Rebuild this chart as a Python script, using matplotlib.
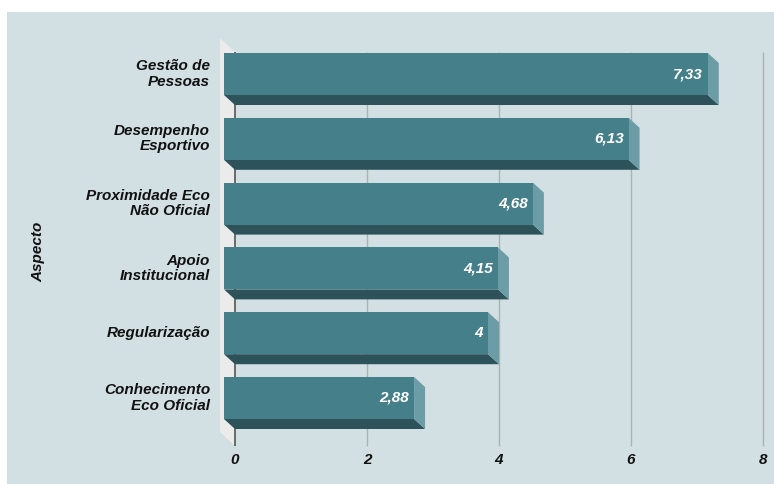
import matplotlib
matplotlib.use("Agg")
import matplotlib.pyplot as plt
from matplotlib.patches import Rectangle, Polygon

plt.rcParams['font.family'] = ['Liberation Sans', 'DejaVu Sans']

categorias = ["Gestão de\nPessoas", "Desempenho\nEsportivo", "Proximidade Eco\nNão Oficial",
              "Apoio\nInstitucional", "Regularização", "Conhecimento\nEco Oficial"]
valores = [7.33, 6.13, 4.68, 4.15, 4.0, 2.88]
rotulos = ["7,33", "6,13", "4,68", "4,15", "4", "2,88"]
ticks_x = [0, 2, 4, 6, 8]

FUNDO = "#d3e0e3"
FRENTE = "#457f8a"
BAIXO = "#2d5259"
LADO = "#6c9da6"
PAREDE = "#ebebeb"
FS = 11

W, H = 774, 484
fig = plt.figure(figsize=(W / 100, H / 100), dpi=100)
fig.patch.set_facecolor("white")
fundo = Rectangle((7 / W, 0), 1 - 7 / W, 1 - 12 / H, transform=fig.transFigure,
                  facecolor=FUNDO, edgecolor="none")
fundo.set_zorder(-10)
fig.add_artist(fundo)

# axes in pixel positions: x 235..763 (0..8), y 52..446
px_x0, px_x1, px_top, px_bot = 235, 763, 52, 446
ax = fig.add_axes([px_x0 / W, 1 - px_bot / H, (px_x1 - px_x0) / W, (px_bot - px_top) / H])
ax.set_zorder(1)
ax.set_facecolor("none")
for s in ax.spines.values():
    s.set_visible(False)

ppx = (px_x1 - px_x0) / 8.0      # px per x unit
ppy = 64.8                       # px per category
ytop = (px_top - 84) / ppy
ybot = (px_bot - 84) / ppy
ax.set_xlim(0, 8)
ax.set_ylim(ybot, ytop)

# offset of the front face (3d look)
dx = -11 / ppx
dy = -10 / ppy
h = 42 / ppy

# left wall
wx = -15 / ppx
wy = -14 / ppy
ax.add_patch(Polygon([(wx, ytop + wy), (0, ytop), (0, ybot), (wx, ybot + wy)],
                     closed=True, facecolor=PAREDE, edgecolor="none", clip_on=False, zorder=1))

# grid
for t in ticks_x:
    ax.plot([t, t], [ytop, ybot], color="#555555" if t == 0 else "#a9b3b5",
            lw=1.2 if t == 0 else 1.0, zorder=2, clip_on=False, solid_capstyle="butt")

for i, v in enumerate(valores):
    top, bot = i - h / 2, i + h / 2
    ax.add_patch(Polygon([(dx, bot + dy), (v + dx, bot + dy), (v, bot), (0, bot)],
                         closed=True, facecolor=BAIXO, edgecolor="none", zorder=3, clip_on=False))
    ax.add_patch(Polygon([(v + dx, top + dy), (v, top), (v, bot), (v + dx, bot + dy)],
                         closed=True, facecolor=LADO, edgecolor="none", zorder=3, clip_on=False))
    ax.add_patch(Rectangle((dx, top + dy), v, h, facecolor=FRENTE, edgecolor="none",
                           zorder=4, clip_on=False))
    ax.text(v + dx - 5 / ppx, i + dy, rotulos[i], color="white", fontsize=FS,
            fontweight="bold", fontstyle="italic", ha="right", va="center", zorder=5)
    ax.text(-25 / ppx, i + dy, categorias[i], color="#111111", fontsize=FS, fontweight="bold",
            fontstyle="italic", ha="right", va="center", linespacing=1.1, clip_on=False)

ax.set_xticks([])
ax.set_yticks([])
for t in ticks_x:
    ax.text(t, ybot + 14 / ppy, str(t), color="#111111", fontsize=FS, fontweight="bold",
            fontstyle="italic", ha="center", va="center", clip_on=False)

fig.text(38 / W, 1 - 252 / H, "Aspecto", rotation=90, color="#111111", fontsize=FS,
         fontweight="bold", fontstyle="italic", ha="center", va="center")

fig.savefig("out.png", dpi=100)
